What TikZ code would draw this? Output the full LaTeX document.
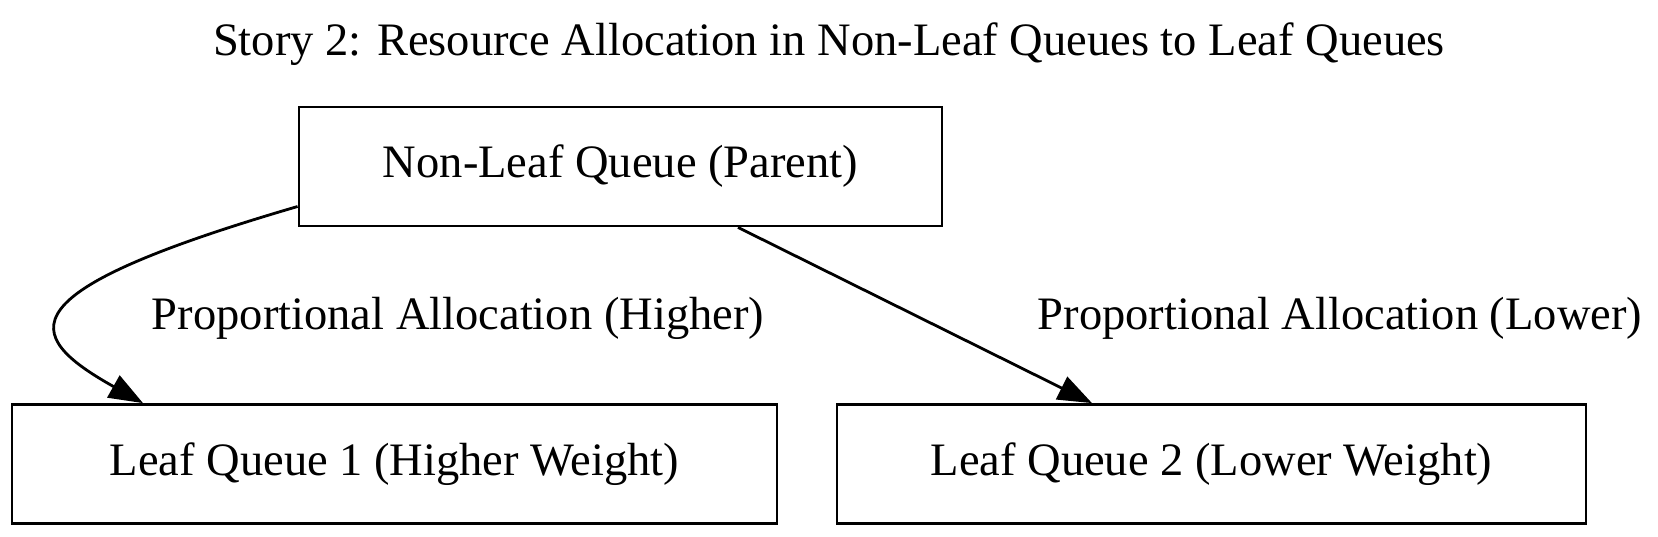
\documentclass[tikz,border=0pt]{standalone}
\usepackage{fontspec}
\setmainfont{Liberation Serif}
\usetikzlibrary{arrows.meta}
\begin{document}
\begin{tikzpicture}[x=1pt,y=-1pt,
  every node/.style={font=\fontsize{46.5}{56}\selectfont},
  qbox/.style={draw,line width=2.8pt,inner sep=0pt,minimum height=119pt},
  conn/.style={line width=2.8pt,-{Triangle[length=34pt,width=25pt]}},
  lbl/.style={inner sep=0pt}]
\useasboundingbox (0,0) rectangle (1658,536);
\node[lbl,anchor=base] (title) at (829,55) {Story 2: Resource Allocation in Non-Leaf Queues to Leaf Queues};
\node[qbox,minimum width=643pt] (p) at (620.5,166.5) {Non-Leaf Queue (Parent)};
\node[qbox,minimum width=765pt] (l1) at (394.5,464) {Leaf Queue 1 (Higher Weight)};
\node[qbox,minimum width=749pt] (l2) at (1211.5,464) {Leaf Queue 2 (Lower Weight)};
\node[lbl] (e1) at (458,318) {Proportional Allocation (Higher)};
\node[lbl] (e2) at (1340,318) {Proportional Allocation (Lower)};
\draw[conn] ([yshift=-40pt]p.west) .. controls (5,292) and (20,334) .. ([xshift=-251.5pt]l1.north);
\draw[conn] ([xshift=117.5pt]p.south) -- ([xshift=-119.5pt]l2.north);
\end{tikzpicture}
\end{document}
